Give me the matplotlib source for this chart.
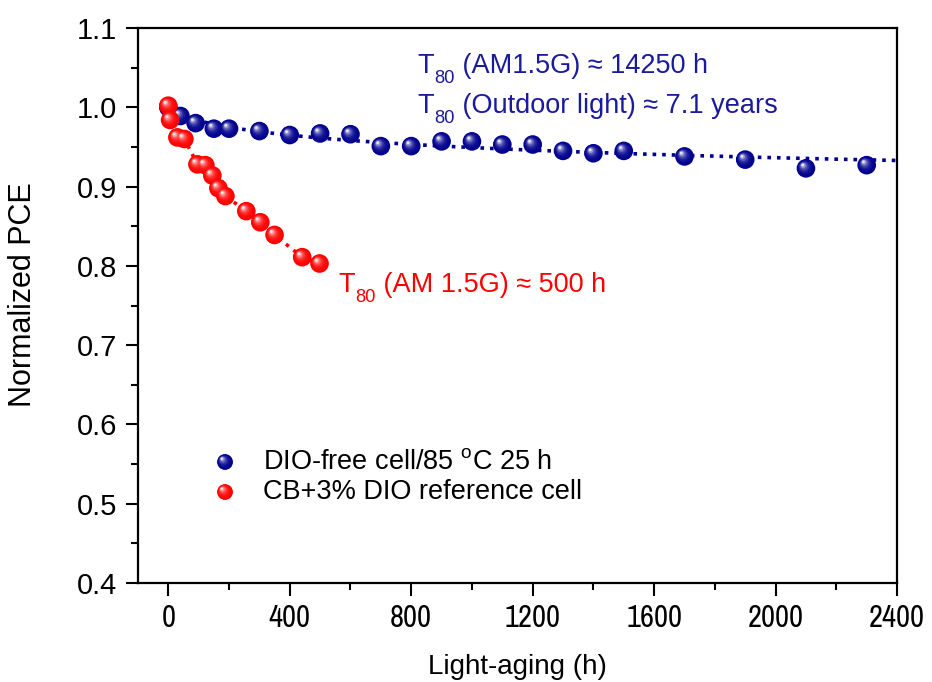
import numpy as np
import matplotlib
matplotlib.use("Agg")
import matplotlib.pyplot as plt
from matplotlib.transforms import offset_copy
from matplotlib.ticker import MultipleLocator
from matplotlib import font_manager as fm

plt.rcParams['font.family'] = ['Liberation Sans', 'DejaVu Sans']
plt.rcParams['mathtext.fontset'] = 'custom'
plt.rcParams['mathtext.rm'] = 'Liberation Sans'
plt.rcParams['mathtext.it'] = 'Liberation Sans'

# data
blue_x = [0, 40, 90, 150, 200, 300, 400, 500, 600, 700, 800, 900, 1000, 1100,
          1200, 1300, 1400, 1500, 1700, 1900, 2100, 2300]
blue_y = [1.000, 0.989, 0.980, 0.973, 0.973, 0.970, 0.965, 0.967, 0.966, 0.951,
          0.951, 0.957, 0.957, 0.953, 0.953, 0.945, 0.942, 0.945, 0.938, 0.934,
          0.923, 0.927]
red_x = [0, 6, 30, 53, 96, 122, 145, 165, 188, 257, 303, 350, 441, 498]
red_y = [1.002, 0.984, 0.962, 0.960, 0.928, 0.927, 0.914, 0.898, 0.888, 0.869,
         0.855, 0.839, 0.811, 0.803]
xticks = [0, 400, 800, 1200, 1600, 2000, 2400]
yticks = [0.4, 0.5, 0.6, 0.7, 0.8, 0.9, 1.0, 1.1]

BLUE = '#00008f'
RED = '#ff0000'
TBLUE = '#1a1a9c'
FS = 19.5

fig = plt.figure(figsize=(9.32, 6.82), dpi=100)
ax = fig.add_axes([0.148, 0.145, 0.8145, 0.814])

# fitted trend for blue (logarithmic least squares)
bx = np.array(blue_x[1:], float)
coef = np.polyfit(np.log(bx + 100), blue_y[1:], 1)
fx = np.linspace(0, 2400, 200)
ax.plot(fx, np.polyval(coef, np.log(fx + 100)), ':', color=BLUE, lw=2.6, zorder=1)
ax.plot(red_x, red_y, ':', color=RED, lw=2.6, zorder=1)


def spheres(ax, x, y, base, s, zbase):
    ax.scatter(x, y, s=s, color=base, edgecolors='none', zorder=zbase)
    base_rgb = np.array(matplotlib.colors.to_rgb(base))
    layers = 7
    for i in range(1, layers + 1):
        f = i / layers
        col = base_rgb + (1 - base_rgb) * (0.10 * f + 0.8 * f ** 3)
        tr = offset_copy(ax.transData, fig=fig, x=-2.3 * f, y=2.4 * f, units='points')
        ax.scatter(x, y, s=s * (1 - 0.85 * f) ** 2, color=np.clip(col, 0, 1),
                   edgecolors='none', zorder=zbase + 0.01 * i, transform=tr)


spheres(ax, blue_x, blue_y, BLUE, 180, 3)
spheres(ax, red_x, red_y, RED, 180, 4)

ax.set_xlim(-100, 2400)
ax.set_ylim(0.4, 1.1)
ax.set_xticks(xticks)
ax.set_yticks(yticks)
ax.set_yticklabels([f"{v:.1f}" for v in yticks])
ax.xaxis.set_minor_locator(MultipleLocator(200))
ax.yaxis.set_minor_locator(MultipleLocator(0.05))
ax.tick_params(which='both', direction='out', width=1.5, top=False, right=False)
ax.tick_params(which='major', length=9, labelsize=21, pad=6)
ax.tick_params(which='minor', length=5)
for sp in ax.spines.values():
    sp.set_linewidth(1.6)

narrow = [f.name for f in fm.fontManager.ttflist if 'Narrow' in f.name]
if narrow:
    for lab in ax.get_xticklabels():
        lab.set_family(narrow[0])
        lab.set_fontsize(22)

ax.set_xlabel('Light-aging (h)', fontsize=20, labelpad=16)
ax.set_ylabel('Normalized PCE', fontsize=22)
ax.yaxis.set_label_coords(-0.132, 0.519)


def t80_text(px, py, rest, color):
    """Draw 'T' + lowered subscript '80' + rest, positions in figure pixels."""
    fig.canvas.draw()
    r = fig.canvas.get_renderer()
    tr = fig.dpi_scale_trans
    x0 = px / fig.dpi
    y0 = (682 - py) / fig.dpi
    t1 = fig.text(x0, y0, 'T', color=color, fontsize=FS, transform=tr, va='baseline')
    w1 = t1.get_window_extent(r).x1 / fig.dpi
    t2 = fig.text(w1 + 0.01, y0 - 0.10, '80', color=color, fontsize=FS * 0.68,
                  transform=tr, va='baseline')
    w2 = t2.get_window_extent(r).x1 / fig.dpi
    fig.text(w2, y0, ' ' + rest, color=color, fontsize=FS, transform=tr, va='baseline')


t80_text(417, 73, '(AM1.5G) ≈ 14250 h', TBLUE)
t80_text(417, 113, '(Outdoor light) ≈ 7.1 years', TBLUE)
t80_text(338, 292, '(AM 1.5G) ≈ 500 h', RED)

# legend
lgx = -100 + (225 - 138) / 0.3033
spheres(ax, [lgx], [1.1 - (462 - 28) / 793.], BLUE, 130, 5)
spheres(ax, [lgx], [1.1 - (492 - 28) / 793.], RED, 130, 5)
ax.text((263 - 138) / 759, (583 - 462) / 555, 'DIO-free cell/85 $^{\\mathrm{o}}$C 25 h',
        fontsize=FS, transform=ax.transAxes, va='center')
ax.text((263 - 138) / 759, (583 - 492) / 555, 'CB+3% DIO reference cell',
        fontsize=FS, transform=ax.transAxes, va='center')

fig.savefig('out.png', dpi=100)
